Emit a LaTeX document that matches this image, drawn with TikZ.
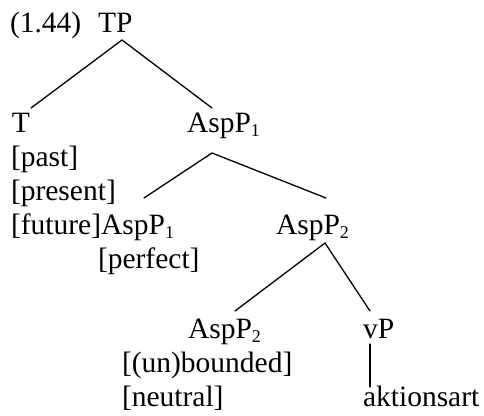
\documentclass[tikz,border=0pt]{standalone}
\usepackage{fontspec}
\setmainfont{Liberation Serif}
\newcommand{\sbs}[1]{\raisebox{-4.5pt}{\fontsize{18}{18}\selectfont #1}}
\begin{document}
\begin{tikzpicture}[x=1pt,y=-1pt,
  lbl/.style={anchor=base west,inner sep=0pt,outer sep=0pt,font=\fontsize{29.5}{34}\selectfont},
  branch/.style={line width=1.3pt,line cap=round}]
\useasboundingbox (0,0) rectangle (484,415);
% labels
\node[lbl] (ex) at (10,32) {(1.44)};
\node[lbl] (TP) at (98,32) {TP};
\node[lbl] (T) at (12,132) {T};
\node[lbl] (AspPa) at (187,132) {AspP\sbs{1}};
\node[lbl] (past) at (11,166) {[past]};
\node[lbl] (present) at (11,200) {[present]};
\node[lbl] (future) at (11,234) {[future]AspP\sbs{1}};
\node[lbl] (AspPb) at (276,234) {AspP\sbs{2}};
\node[lbl] (perfect) at (98,268) {[perfect]};
\node[lbl] (AspPc) at (188,338) {AspP\sbs{2}};
\node[lbl] (unb) at (122,372) {[(un)bounded]};
\node[lbl] (neutral) at (122,406) {[neutral]};
\node[lbl] (vP) at (363,338) {vP};
\node[lbl] (akt) at (363,406) {aktionsart};
% branch points
\coordinate (tpTop) at (122,40);
\coordinate (tEnd) at (31,108);
\coordinate (aEnd) at (212,108);
\coordinate (aTop) at (212,153);
\coordinate (fEnd) at (144,198);
\coordinate (bEnd) at (326,198);
\coordinate (bTop) at (325,243);
\coordinate (cEnd) at (235,311);
\coordinate (vEnd) at (370,311);
\coordinate (vTop) at (370,344);
\coordinate (kEnd) at (370,387);
\draw[branch] (tEnd) -- (tpTop) -- (aEnd);
\draw[branch] (fEnd) -- (aTop) -- (bEnd);
\draw[branch] (cEnd) -- (bTop) -- (vEnd);
\draw[branch] (vTop) -- (kEnd);
\end{tikzpicture}
\end{document}
